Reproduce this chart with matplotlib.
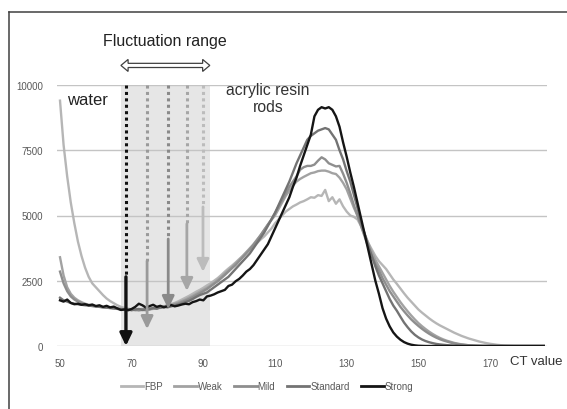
import matplotlib
matplotlib.use("Agg")
import matplotlib.pyplot as plt
from matplotlib.lines import Line2D
from matplotlib.patches import Polygon

plt.rcParams['font.family'] = ['Liberation Sans', 'DejaVu Sans']

# ---------------- data ----------------
ct = list(range(50, 186))

fbp = [9400, 7700, 6500, 5500, 4700, 4000, 3450, 3000, 2650, 2400,
       2250, 2100, 1950, 1820, 1720, 1640, 1560, 1500, 1460, 1430,
       1400, 1380, 1350, 1380, 1360, 1400, 1420, 1450, 1480, 1520,
       1560, 1600, 1650, 1710, 1780, 1850, 1920, 2000, 2080, 2150,
       2230, 2320, 2400, 2500, 2600, 2720, 2850, 2970, 3080, 3200,
       3330, 3450, 3580, 3700, 3830, 3950, 4080, 4200, 4350, 4500,
       4700, 4850, 5000, 5150, 5250, 5350, 5420, 5500, 5550, 5620,
       5700, 5680, 5780, 5750, 5980, 5550, 5700, 5450, 5620, 5350,
       5150, 5000, 4950, 4850, 4600, 4250, 3950, 3700, 3450, 3250,
       3100, 2950, 2750, 2550, 2380, 2200, 2020, 1850, 1700, 1550,
       1400, 1280, 1170, 1060, 960, 870, 790, 720, 650, 580,
       510, 450, 390, 340, 290, 250, 210, 170, 140, 110,
       85, 65, 45, 30, 18, 10, 5, 0, 0, 0,
       0, 0, 0, 0, 0, 0]

weak = [3400, 2700, 2250, 2000, 1850, 1750, 1680, 1620, 1580, 1550,
        1530, 1510, 1490, 1470, 1460, 1440, 1430, 1410, 1400, 1380,
        1390, 1370, 1400, 1420, 1390, 1430, 1460, 1440, 1490, 1520,
        1550, 1580, 1620, 1660, 1720, 1780, 1850, 1920, 2000, 2080,
        2150, 2230, 2320, 2420, 2530, 2650, 2780, 2900, 3030, 3170,
        3300, 3450, 3600, 3750, 3900, 4080, 4250, 4450, 4650, 4830,
        5000, 5250, 5500, 5750, 5950, 6150, 6300, 6400, 6480, 6550,
        6620, 6650, 6700, 6720, 6720, 6680, 6620, 6590, 6450, 6250,
        6000, 5650, 5300, 5000, 4650, 4300, 3950, 3600, 3300, 3050,
        2800, 2550, 2300, 2080, 1880, 1680, 1500, 1330, 1170, 1020,
        880, 760, 650, 550, 460, 380, 310, 250, 200, 160,
        120, 90, 65, 45, 30, 20, 12, 6, 0, 0,
        0, 0, 0, 0, 0, 0, 0, 0, 0, 0,
        0, 0, 0, 0, 0, 0]

mild = [2850, 2400, 2100, 1900, 1780, 1700, 1640, 1600, 1560, 1540,
        1520, 1500, 1480, 1470, 1450, 1440, 1420, 1400, 1380, 1390,
        1370, 1400, 1380, 1410, 1430, 1400, 1450, 1480, 1460, 1500,
        1520, 1550, 1580, 1620, 1680, 1740, 1800, 1870, 1950, 2020,
        2100, 2180, 2280, 2380, 2480, 2600, 2720, 2850, 2980, 3100,
        3250, 3400, 3550, 3700, 3880, 4050, 4250, 4450, 4650, 4850,
        5100, 5350, 5600, 5850, 6100, 6300, 6500, 6750, 6850, 6900,
        6900, 6950, 7100, 7230, 7150, 7000, 6940, 6880, 6900, 6600,
        6250, 5850, 5400, 5000, 4600, 4200, 3800, 3450, 3150, 2900,
        2600, 2350, 2100, 1900, 1700, 1500, 1330, 1170, 1020, 890,
        770, 660, 560, 470, 390, 320, 260, 210, 170, 130,
        100, 75, 55, 40, 28, 18, 10, 5, 0, 0,
        0, 0, 0, 0, 0, 0, 0, 0, 0, 0,
        0, 0, 0, 0, 0, 0]

standard = [1850, 1750, 1700, 1650, 1620, 1600, 1580, 1560, 1550, 1530,
            1520, 1500, 1490, 1480, 1470, 1450, 1430, 1420, 1410, 1400,
            1380, 1400, 1420, 1380, 1400, 1420, 1450, 1430, 1470, 1500,
            1480, 1520, 1550, 1580, 1620, 1680, 1730, 1800, 1880, 1950,
            2000, 2050, 2150, 2250, 2350, 2450, 2550, 2650, 2800, 2950,
            3100, 3250, 3400, 3550, 3750, 3950, 4150, 4350, 4600, 4850,
            5100, 5400, 5700, 6000, 6300, 6650, 7000, 7300, 7600, 7900,
            8050, 8150, 8250, 8300, 8350, 8300, 8100, 7900, 7500, 7150,
            6700, 6300, 5800, 5300, 4750, 4300, 3850, 3450, 3050, 2700,
            2400, 2100, 1800, 1550, 1350, 1120, 900, 720, 560, 430,
            330, 250, 190, 145, 110, 80, 60, 45, 32, 22,
            15, 10, 5, 0, 0, 0, 0, 0, 0, 0,
            0, 0, 0, 0, 0, 0, 0, 0, 0, 0,
            0, 0, 0, 0, 0, 0]

strong = [1750, 1700, 1780, 1650, 1600, 1620, 1580, 1600, 1560, 1590,
          1530, 1560, 1500, 1540, 1480, 1510, 1440, 1380, 1400, 1370,
          1420, 1500, 1620, 1560, 1470, 1530, 1580, 1500, 1540, 1480,
          1530, 1570, 1520, 1550, 1590, 1620, 1600, 1680, 1720, 1780,
          1750, 1900, 1930, 1980, 2050, 2100, 2150, 2300, 2350, 2480,
          2570, 2700, 2850, 2950, 3100, 3300, 3500, 3700, 3900, 4200,
          4500, 4800, 5100, 5400, 5700, 6100, 6450, 6900, 7300, 7700,
          8100, 8800, 9050, 9150, 9100, 9150, 9050, 8800, 8400, 7800,
          7250, 6650, 6100, 5500, 4900, 4300, 3700, 3100, 2500, 2000,
          1450, 1050, 750, 520, 360, 240, 150, 90, 50, 25,
          10, 5, 0, 0, 0, 0, 0, 0, 0, 0,
          0, 0, 0, 0, 0, 0, 0, 0, 0, 0,
          0, 0, 0, 0, 0, 0, 0, 0, 0, 0,
          0, 0, 0, 0, 0, 0]

series_names = ['FBP', 'Weak', 'Mild', 'Standard', 'Strong']
series_values = [fbp, weak, mild, standard, strong]
series_colors = ['#b6b6b6', '#a2a2a2', '#8e8e8e', '#737373', '#151515']

x_ticks = [50, 70, 90, 110, 130, 150, 170]
y_ticks = [0, 2500, 5000, 7500, 10000]

range_start, range_end = 67.0, 91.8

arrow_x = [68.4, 74.3, 80.2, 85.4, 89.9]
arrow_start = [2650, 3260, 4100, 4680, 5330]
arrow_tip = [0, 650, 1420, 2110, 2840]
arrow_colors = ['#111111', '#9a9a9a', '#8a8a8a', '#a6a6a6', '#bcbcbc']

# ---------------- figure ----------------
fig = plt.figure(figsize=(5.67, 4.10), dpi=100)
ax = fig.add_axes([57 / 567, 1 - 347 / 410, 490 / 567, 261 / 410])

ax.set_xlim(49.16, 185.9)
ax.set_ylim(0, 10000)

# shaded fluctuation range
ax.axvspan(range_start, range_end, ymin=0, ymax=1, color='#e6e6e6', zorder=0, lw=0)

# grid
for yv in y_ticks:
    ax.axhline(yv, color='#c4c4c4', lw=1.0, zorder=1)

# curves
for name, vals, col in zip(series_names, series_values, series_colors):
    ax.plot(ct, vals, color=col, lw=1.7, label=name, zorder=3,
            solid_joinstyle='round')

# dotted lines + arrows
for xv, ys, yt, col in zip(arrow_x, arrow_start, arrow_tip, arrow_colors):
    ax.plot([xv, xv], [10000, ys], color=col, lw=2.2,
            dashes=(1.0, 1.1), dash_capstyle='butt', zorder=4)
    ax.annotate('', xy=(xv, yt), xytext=(xv, ys),
                arrowprops=dict(arrowstyle='-|>,head_length=0.75,head_width=0.36',
                                color=col, lw=2.0 if col != '#111111' else 2.4,
                                shrinkA=0, shrinkB=0, mutation_scale=10),
                zorder=5)

# hollow double arrow above the range
yc = 10750
sh, hh, hl = 80, 230, 2.0
verts = [(range_start, yc), (range_start + hl, yc + hh), (range_start + hl, yc + sh),
         (range_end - hl, yc + sh), (range_end - hl, yc + hh), (range_end, yc),
         (range_end - hl, yc - hh), (range_end - hl, yc - sh),
         (range_start + hl, yc - sh), (range_start + hl, yc - hh)]
ax.add_patch(Polygon(verts, closed=True, fc='white', ec='#404040', lw=0.9,
                     clip_on=False, zorder=6))

# texts
ax.text((range_start + range_end) / 2, 11700, 'Fluctuation range', ha='center',
        va='center', fontsize=11.5, color='#222222', clip_on=False)
ax.text(51.9, 9450, 'water', ha='left', va='center', fontsize=12, color='#222222')
ax.text(108.0, 9500, 'acrylic resin\nrods', ha='center', va='center',
        fontsize=11.3, color='#333333', linespacing=1.15)

# ticks
ax.set_xticks(x_ticks)
ax.set_xticklabels([str(t) for t in x_ticks])
ax.set_yticks(y_ticks)
ax.set_yticklabels([str(t) for t in y_ticks])
ax.tick_params(axis='both', length=0, labelsize=7, labelcolor='#595959')
ax.tick_params(axis='y', pad=10)
ax.tick_params(axis='x', pad=9)
for s in ax.spines.values():
    s.set_visible(False)

fig.text(510 / 567, 1 - 362 / 410, 'CT value', ha='left', va='center',
         fontsize=9.5, color='#333333')

# legend
leg = fig.legend(loc='center', bbox_to_anchor=(267 / 567, 1 - 387 / 410),
                 ncol=5, frameon=False, fontsize=7, handlelength=2.3,
                 handletextpad=0.1, columnspacing=1.2, labelcolor='#595959')
for h in leg.get_lines():
    h.set_linewidth(2.0)

# chart border (left and top)
fig.add_artist(Line2D([9 / 567, 9 / 567], [0, 1 - 13 / 410],
                      transform=fig.transFigure, color='#404040', lw=1.1))
fig.add_artist(Line2D([9 / 567, 1], [1 - 13 / 410, 1 - 13 / 410],
                      transform=fig.transFigure, color='#404040', lw=1.1))

fig.savefig('out.png', dpi=100)
